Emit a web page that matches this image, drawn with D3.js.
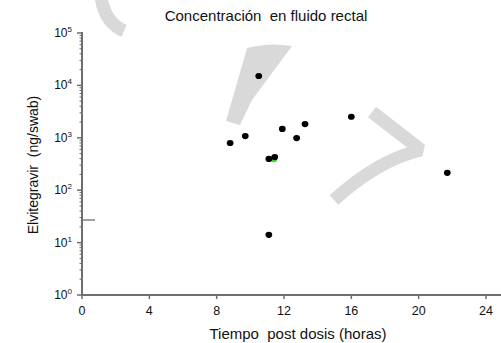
<!DOCTYPE html>
<html><head><meta charset="utf-8">
<script src="https://cdn.jsdelivr.net/npm/d3@7"></script>
<style>body{margin:0;background:#fff}svg{display:block}text{font-family:"Liberation Sans",Arial,sans-serif;fill:#111;white-space:pre}</style>
</head><body><svg id="c" width="501" height="343"></svg>
<script>
const hours = [10.5, 8.8, 9.7, 11.9, 13.25, 12.75, 11.1, 11.45, 16.0, 21.7, 11.1];
const conc = [15100, 795, 1080, 1480, 1830, 990, 395, 430, 2520, 215, 14.1];
const greenHours = [11.4];
const greenConc = [390];
const xTicks = [0, 4, 8, 12, 16, 20, 24];
const yExponents = [0, 1, 2, 3, 4, 5];
const loqValue = 27;
const title = "Concentración  en fluido rectal";
const xLabel = "Tiempo  post dosis (horas)";
const yLabel = "Elvitegravir  (ng/swab)";

const W = 501, H = 343;
const svg = d3.select("#c");
const x = d3.scaleLinear().domain([0, 24]).range([82, 486]);
const y = d3.scaleLog().domain([1, 1e5]).range([295, 33]);
const axisColor = "#6e6e6e";

// watermark
const wm = svg.append("g");
const wc = "#d9d9d9";
wm.append("path").attr("d", "M101,-4 Q104,22 124,31").attr("fill", "none").attr("stroke", wc).attr("stroke-width", 13);
wm.append("path").attr("d", "M247,48 Q270,42 292,46 L252,100 L240,125 L226,121 Z").attr("fill", wc);
wm.append("path").attr("d", "M372,112 L421,150 Q378,160 334,200").attr("fill", "none").attr("stroke", wc).attr("stroke-width", 13).attr("stroke-linejoin", "bevel");

// y axis minor/major ticks
const gy = svg.append("g");
yExponents.forEach(e => {
  const v = Math.pow(10, e);
  gy.append("line").attr("x1", 77).attr("x2", 82).attr("y1", y(v)).attr("y2", y(v)).attr("stroke", axisColor).attr("stroke-width", 1.5);
  const t = gy.append("text").attr("x", 72).attr("y", y(v) + 4).attr("text-anchor", "end").attr("font-size", 12);
  t.append("tspan").text("10");
  t.append("tspan").attr("dy", -5).attr("font-size", 8).text(e);
  if (e < 5) {
    for (let k = 2; k <= 9; k++) {
      const mv = v * k;
      gy.append("line").attr("x1", 79.5).attr("x2", 82).attr("y1", y(mv)).attr("y2", y(mv)).attr("stroke", axisColor).attr("stroke-width", 1);
    }
  }
});
gy.append("line").attr("x1", 82).attr("x2", 82).attr("y1", y(1e5) - 1).attr("y2", 295).attr("stroke", axisColor).attr("stroke-width", 2);

// x axis
const gx = svg.append("g");
gx.append("line").attr("x1", 81).attr("x2", W).attr("y1", 295).attr("y2", 295).attr("stroke", axisColor).attr("stroke-width", 2);
xTicks.forEach(t => {
  gx.append("line").attr("x1", x(t)).attr("x2", x(t)).attr("y1", 295).attr("y2", 299).attr("stroke", axisColor).attr("stroke-width", 1.5);
  gx.append("text").attr("x", x(t)).attr("y", 315).attr("text-anchor", "middle").attr("font-size", 12.5).text(t);
});

// LOQ mark
svg.append("line").attr("x1", x(0)).attr("x2", x(0) + 13).attr("y1", y(loqValue)).attr("y2", y(loqValue)).attr("stroke", axisColor).attr("stroke-width", 1.3);

// points
svg.append("g").selectAll("ellipse").data(greenHours.map((h, i) => [h, greenConc[i]])).join("ellipse")
  .attr("cx", d => x(d[0])).attr("cy", d => y(d[1])).attr("rx", 3.2).attr("ry", 2.9).attr("fill", "#3ad43a");
svg.append("g").selectAll("ellipse").data(hours.map((h, i) => [h, conc[i]])).join("ellipse")
  .attr("cx", d => x(d[0])).attr("cy", d => y(d[1])).attr("rx", 3.4).attr("ry", 3.1).attr("fill", "#000");

// labels
svg.append("text").attr("x", 266).attr("y", 21).attr("text-anchor", "middle").attr("font-size", 15).text(title);
svg.append("text").attr("x", 298).attr("y", 339).attr("text-anchor", "middle").attr("font-size", 15).text(xLabel);
svg.append("text").attr("transform", "translate(38,165) rotate(-90)").attr("text-anchor", "middle").attr("font-size", 14).text(yLabel);
</script></body></html>
